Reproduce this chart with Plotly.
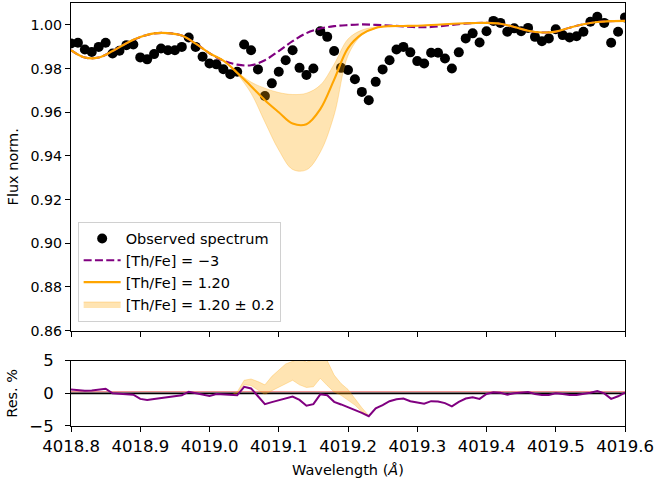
import plotly.graph_objects as go

# ---------------- data ----------------
OBS_WAVE = [4018.80, 4018.81, 4018.82, 4018.83, 4018.84, 4018.85, 4018.86, 4018.87, 4018.88, 4018.89,
            4018.90, 4018.91, 4018.92, 4018.93, 4018.94, 4018.95, 4018.96, 4018.97, 4018.98, 4018.99,
            4019.00, 4019.01, 4019.02, 4019.03, 4019.04, 4019.05, 4019.06, 4019.07, 4019.08, 4019.09,
            4019.10, 4019.11, 4019.12, 4019.13, 4019.14, 4019.15, 4019.16, 4019.17, 4019.18, 4019.19,
            4019.20, 4019.21, 4019.22, 4019.23, 4019.24, 4019.25, 4019.26, 4019.27, 4019.28, 4019.29,
            4019.30, 4019.31, 4019.32, 4019.33, 4019.34, 4019.35, 4019.36, 4019.37, 4019.38, 4019.39,
            4019.40, 4019.41, 4019.42, 4019.43, 4019.44, 4019.45, 4019.46, 4019.47, 4019.48, 4019.49,
            4019.50, 4019.51, 4019.52, 4019.53, 4019.54, 4019.55, 4019.56, 4019.57, 4019.58, 4019.59,
            4019.60]
OBS_FLUX = [0.9915, 0.9918, 0.9887, 0.9876, 0.9899, 0.9918, 0.9869, 0.9881, 0.9907, 0.9910,
            0.9851, 0.9842, 0.9866, 0.9892, 0.9884, 0.9884, 0.9899, 0.9942, 0.9899, 0.9854,
            0.9823, 0.9819, 0.9797, 0.9774, 0.9785, 0.9910, 0.9884, 0.9796, 0.9674, 0.9732,
            0.9785, 0.9838, 0.9884, 0.9803, 0.9770, 0.9800, 0.9971, 0.9945, 0.9880, 0.9803,
            0.9793, 0.9751, 0.9693, 0.9655, 0.9739, 0.9796, 0.9838, 0.9887, 0.9899, 0.9874,
            0.9834, 0.9823, 0.9872, 0.9872, 0.9846, 0.9800, 0.9874, 0.9938, 0.9961, 0.9919,
            0.9971, 1.0018, 1.0009, 0.9968, 0.9984, 0.9971, 0.9986, 0.9945, 0.9925, 0.9938,
            0.9980, 0.9953, 0.9942, 0.9948, 0.9968, 1.0014, 1.0037, 1.0009, 0.9918, 0.9968,
            1.0034]

MODEL_WAVE = [4018.80, 4018.82, 4018.84, 4018.86, 4018.88, 4018.90, 4018.92, 4018.94, 4018.96, 4018.98,
              4019.00, 4019.02, 4019.04, 4019.06, 4019.08, 4019.10, 4019.12, 4019.14, 4019.16, 4019.18,
              4019.20, 4019.22, 4019.24, 4019.26, 4019.28, 4019.30, 4019.32, 4019.34, 4019.36, 4019.38,
              4019.40, 4019.42, 4019.44, 4019.46, 4019.48, 4019.50, 4019.52, 4019.54, 4019.56, 4019.58,
              4019.60]
FLUX_THFE_M3 = [0.9884, 0.9850, 0.9850, 0.9880, 0.9916, 0.9944, 0.9961, 0.9962, 0.9951, 0.9914,
                0.9870, 0.9836, 0.9818, 0.9815, 0.9838, 0.9880, 0.9925, 0.9962, 0.9983, 0.9994,
                0.9999, 1.0002, 1.0000, 0.9997, 0.9993, 0.9989, 0.9990, 0.9996, 1.0003, 1.0008,
                1.0009, 1.0005, 0.9990, 0.9973, 0.9965, 0.9969, 0.9987, 1.0003, 1.0013, 1.0017,
                1.0018]
FLUX_THFE_120 = [0.9884, 0.9850, 0.9850, 0.9880, 0.9916, 0.9944, 0.9961, 0.9962, 0.9951, 0.9914,
                 0.9870, 0.9836, 0.9781, 0.9719, 0.9655, 0.9600, 0.9548, 0.9545, 0.9614, 0.9749,
                 0.9893, 0.9957, 0.9986, 0.9994, 0.9995, 0.9996, 0.9999, 1.0003, 1.0006, 1.0008,
                 1.0009, 1.0005, 0.9990, 0.9973, 0.9965, 0.9969, 0.9987, 1.0003, 1.0013, 1.0017,
                 1.0018]
FLUX_BAND_HIGH = [0.9884, 0.9850, 0.9850, 0.9880, 0.9916, 0.9944, 0.9961, 0.9962, 0.9951, 0.9914,
                  0.9870, 0.9837, 0.9784, 0.9738, 0.9710, 0.9690, 0.9681, 0.9687, 0.9724, 0.9820,
                  0.9935, 0.9976, 0.9990, 0.9995, 0.9995, 0.9996, 0.9999, 1.0003, 1.0006, 1.0008,
                  1.0009, 1.0005, 0.9990, 0.9973, 0.9965, 0.9969, 0.9987, 1.0003, 1.0013, 1.0017,
                  1.0018]
FLUX_BAND_LOW = [0.9884, 0.9850, 0.9850, 0.9880, 0.9916, 0.9944, 0.9961, 0.9962, 0.9951, 0.9914,
                 0.9870, 0.9834, 0.9774, 0.9687, 0.9555, 0.9427, 0.9338, 0.9336, 0.9417, 0.9587,
                 0.9859, 0.9953, 0.9984, 0.9992, 0.9995, 0.9996, 0.9999, 1.0003, 1.0006, 1.0008,
                 1.0009, 1.0005, 0.9990, 0.9973, 0.9965, 0.9969, 0.9987, 1.0003, 1.0013, 1.0017,
                 1.0018]

RES_THFE_M3 = [0.6, 0.5, 0.4, 0.45, 0.55, 0.7, 0.0, -0.05, -0.05, -0.2,
               -0.85, -1.0, -0.85, -0.7, -0.6, -0.5, -0.3, 0.25, 0.0, -0.2,
               -0.4, -0.1, -0.15, -0.3, -0.3, 1.0, 0.75, -0.45, -1.65, -1.35,
               -1.1, -0.8, -0.5, -1.0, -1.9, -1.65, -0.15, -0.3, -1.3, -1.7,
               -2.1, -2.6, -3.0, -3.5, -2.3, -1.8, -1.2, -0.9, -0.8, -1.2,
               -1.45, -1.6, -1.2, -1.25, -1.5, -2.0, -1.3, -0.8, -0.6, -0.85,
               -0.1, 0.15, 0.1, -0.2, 0.0, 0.1, 0.2, -0.1, -0.25, -0.25,
               0.0, -0.1, -0.25, -0.25, -0.1, 0.1, 0.35, 0.0, -0.85, -0.45,
               0.1]
RES_BAND_WAVE = [4019.03, 4019.04, 4019.05, 4019.06, 4019.07, 4019.08, 4019.09, 4019.10, 4019.11, 4019.12,
                 4019.13, 4019.14, 4019.15, 4019.16, 4019.17, 4019.18, 4019.19, 4019.20, 4019.21, 4019.22,
                 4019.23, 4019.24]
RES_BAND_HIGH = [-0.3, 0.2, 2.0, 2.2, 1.8, 1.3, 2.6, 3.6, 4.5, 4.9,
                 5.3, 4.8, 5.2, 5.5, 5.0, 2.8, 1.5, 0.6, -0.8, -2.2,
                 -3.4, -2.3]
RES_BAND_LOW = [-0.3, 0.0, 1.3, 1.2, 0.5, -0.15, 0.4, 0.9, 1.5, 2.0,
                1.3, 0.9, 1.0, 2.3, 1.2, 0.2, -0.3, -1.0, -1.8, -2.8,
                -3.5, -2.4]

LABELS = ["Observed spectrum", "[Th/Fe] = \u22123", "[Th/Fe] = 1.20", "[Th/Fe] = 1.20 \u00b1 0.2"]

# ---------------- styling ----------------
FONT = "DejaVu Sans"
PURPLE = "#800080"
ORANGE = "#FFA500"
BAND = "rgba(255,165,0,0.3)"
BAND_EDGE = "rgba(255,165,0,0.35)"

fig = go.Figure()

# top panel
fig.add_trace(go.Scatter(x=OBS_WAVE, y=OBS_FLUX, mode="markers", name=LABELS[0],
                         marker=dict(color="black", size=10), xaxis="x", yaxis="y",
                         legendgroup="a"))
fig.add_trace(go.Scatter(x=MODEL_WAVE, y=FLUX_THFE_M3, mode="lines", name=LABELS[1],
                         line=dict(color=PURPLE, width=2.1, dash="8px,3.3px", shape="spline", smoothing=1.0),
                         xaxis="x", yaxis="y", legendgroup="b"))
fig.add_trace(go.Scatter(x=MODEL_WAVE, y=FLUX_THFE_120, mode="lines", name=LABELS[2],
                         line=dict(color=ORANGE, width=2.1, shape="spline", smoothing=1.0),
                         xaxis="x", yaxis="y", legendgroup="c"))
fig.add_trace(go.Scatter(x=MODEL_WAVE, y=FLUX_BAND_LOW, mode="lines", showlegend=False,
                         line=dict(color=BAND_EDGE, width=0.8, shape="spline", smoothing=1.0),
                         xaxis="x", yaxis="y", legendgroup="d"))
fig.add_trace(go.Scatter(x=MODEL_WAVE, y=FLUX_BAND_HIGH, mode="lines", name=LABELS[3],
                         fill="tonexty", fillcolor=BAND,
                         line=dict(color=BAND_EDGE, width=0.8, shape="spline", smoothing=1.0),
                         xaxis="x", yaxis="y", legendgroup="d"))

# residual panel
fig.add_trace(go.Scatter(x=RES_BAND_WAVE, y=RES_BAND_LOW, mode="lines", showlegend=False,
                         line=dict(color=BAND_EDGE, width=0.8), xaxis="x2", yaxis="y2"))
fig.add_trace(go.Scatter(x=RES_BAND_WAVE, y=RES_BAND_HIGH, mode="lines", showlegend=False,
                         fill="tonexty", fillcolor=BAND,
                         line=dict(color=BAND_EDGE, width=0.8), xaxis="x2", yaxis="y2"))
fig.add_trace(go.Scatter(x=OBS_WAVE, y=RES_THFE_M3, mode="lines", showlegend=False,
                         line=dict(color=PURPLE, width=2.0), xaxis="x2", yaxis="y2"))

fig.add_shape(type="line", xref="x2 domain", yref="y2", x0=0, x1=1, y0=0.25, y1=0.25,
              line=dict(color="rgba(230,80,80,0.8)", width=1), layer="below")
fig.add_shape(type="line", xref="x2 domain", yref="y2", x0=0, x1=1, y0=0, y1=0,
              line=dict(color="black", width=1.6), layer="below")

axis_common = dict(showline=True, mirror=True, linecolor="black", linewidth=1.1,
                   ticks="outside", ticklen=5, tickwidth=1.1, tickcolor="black",
                   showgrid=False, zeroline=False, automargin=False)

fig.update_layout(
    width=657, height=488,
    margin=dict(l=71, r=32, t=3, b=62, autoexpand=False),
    paper_bgcolor="white", plot_bgcolor="white",
    font=dict(family=FONT, color="black", size=14.5),
    showlegend=True,
    legend=dict(x=0.012, y=0.247, xanchor="left", yanchor="bottom",
                bgcolor="rgba(255,255,255,0.8)", bordercolor="#d0d0d0", borderwidth=1,
                font=dict(family=FONT, size=14.5, color="black"),
                traceorder="grouped", tracegroupgap=0, itemwidth=37),
    xaxis=dict(axis_common, domain=[0, 1], range=[4018.8, 4019.6], dtick=0.1, tick0=4018.8,
               showticklabels=False, anchor="y"),
    yaxis=dict(axis_common, domain=[0.2255, 1.0], range=[0.86, 1.01], dtick=0.02, tick0=0.86,
               tickformat=".2f", tickfont=dict(size=14.2),
               title=dict(text="Flux norm.", font=dict(size=14.5), standoff=8), anchor="x"),
    xaxis2=dict(axis_common, domain=[0, 1], range=[4018.8, 4019.6], dtick=0.1, tick0=4018.8,
                tickformat=".1f", tickfont=dict(size=16.5), matches="x",
                title=dict(text="Wavelength (<i>\u00c5</i>)", font=dict(size=14.5), standoff=10),
                anchor="y2"),
    yaxis2=dict(axis_common, domain=[0, 0.1544], range=[-5, 5], tickvals=[-5, 0, 5],
                tickfont=dict(size=16.5), ticklabelstandoff=8,
                title=dict(text="Res. %", font=dict(size=14.5), standoff=8), anchor="x2"),
)

fig.write_html("out.html")
